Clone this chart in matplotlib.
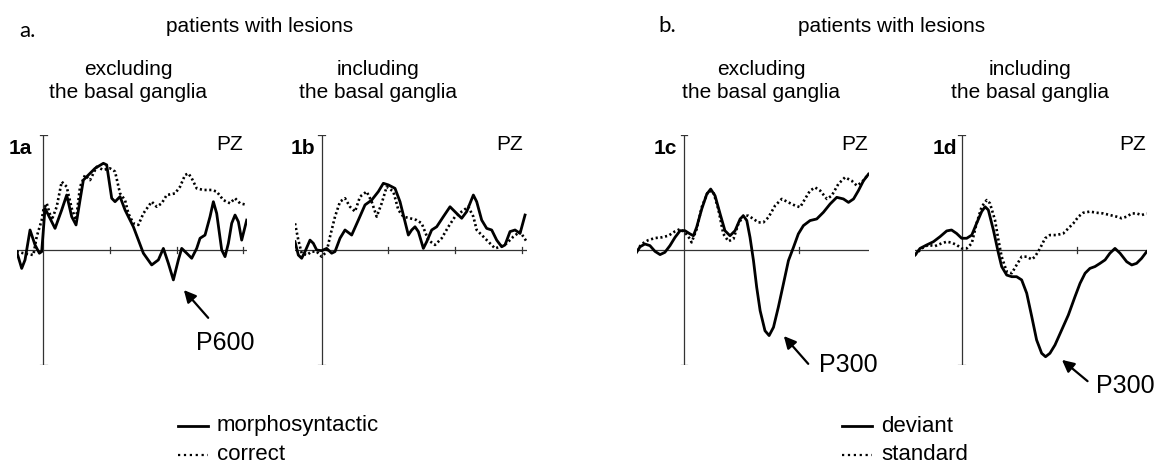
import numpy as np
import matplotlib
matplotlib.use("Agg")
import matplotlib.pyplot as plt

# --- data (time in ms, amplitude in arbitrary uV units) ---
# 1a: lesions excluding the basal ganglia, syntax task
t_1a_solid = [-160, -130, -110, -80, -50, -24, -10, 10, 30, 70, 110, 140, 170, 196, 220, 240, 270,
              310, 360, 380, 410, 430, 460, 490, 540, 600, 650, 690, 720, 750, 780, 810, 830, 860,
              890, 920, 940, 970, 1000, 1020, 1040, 1070, 1090, 1110, 1130, 1150, 1170, 1190, 1220]
v_1a_solid = [-0.07, -0.80, -0.43, 0.87, 0.22, -0.14, -0.07, 1.81, 1.52, 0.94, 1.74, 2.39, 1.45, 1.09,
              2.17, 3.04, 3.26, 3.55, 3.77, 3.70, 2.25, 2.10, 2.32, 1.74, 1.01, -0.14, -0.65, -0.43,
              0.07, -0.58, -1.30, -0.43, 0.07, -0.14, -0.36, 0.07, 0.51, 0.65, 1.45, 2.10, 1.59, 0.00,
              -0.29, 0.29, 1.16, 1.52, 1.23, 0.43, 1.30]
t_1a_dot = [-160, -120, -60, -40, -10, 0, 20, 50, 80, 110, 140, 170, 196, 220, 250, 280, 320, 360,
            400, 430, 460, 490, 510, 540, 570, 600, 650, 680, 710, 740, 790, 820, 850, 870, 890, 920,
            960, 1010, 1040, 1080, 1120, 1150, 1180, 1220]
v_1a_dot = [-0.07, -0.14, -0.22, 0.58, 1.30, 1.74, 2.03, 1.30, 1.88, 2.97, 2.75, 1.81, 1.30, 2.75,
            3.26, 3.04, 3.62, 3.48, 3.55, 3.41, 2.46, 2.17, 1.59, 1.16, 1.09, 1.59, 2.10, 1.88, 2.03,
            2.39, 2.46, 2.75, 3.26, 3.33, 3.12, 2.68, 2.61, 2.61, 2.54, 2.17, 2.03, 2.25, 2.03, 1.96]

# 1b: lesions including the basal ganglia, syntax task
t_1b_solid = [-160, -140, -120, -100, -70, -50, -30, 0, 30, 60, 80, 110, 140, 180, 220, 260, 300,
              340, 370, 400, 440, 470, 500, 520, 540, 560, 580, 610, 630, 660, 690, 730, 770, 810,
              840, 870, 910, 930, 960, 990, 1020, 1050, 1080, 1100, 1130, 1160, 1190, 1220]
v_1b_solid = [0.36, -0.22, -0.36, -0.07, 0.43, 0.29, 0.00, -0.03, 0.07, -0.14, -0.07, 0.51, 0.87,
              0.65, 1.30, 1.96, 2.17, 2.54, 2.90, 2.83, 2.68, 2.10, 1.23, 0.65, 0.87, 1.01, 0.80,
              0.07, 0.36, 0.87, 1.01, 1.45, 1.88, 1.59, 1.38, 1.67, 2.39, 2.10, 1.30, 0.94, 0.87,
              0.43, 0.14, 0.22, 0.80, 0.87, 0.72, 1.52]
t_1b_dot = [-160, -140, -120, -90, -60, -30, 0, 30, 50, 80, 110, 140, 170, 200, 230, 270, 300, 330,
            360, 390, 430, 460, 490, 530, 570, 600, 640, 680, 720, 760, 800, 840, 880, 910, 930, 970,
            1000, 1040, 1070, 1110, 1150, 1190, 1210, 1230]
v_1b_dot = [1.16, 0.43, -0.14, -0.22, -0.07, -0.07, -0.29, -0.07, 0.58, 1.45, 2.10, 2.25, 1.88, 1.67,
            2.32, 2.54, 2.10, 1.45, 2.03, 2.75, 2.54, 1.74, 1.45, 1.38, 1.30, 1.16, 0.43, 0.22, 0.51,
            1.01, 1.45, 1.67, 1.88, 1.45, 0.87, 0.58, 0.36, 0.07, 0.14, 0.29, 0.58, 0.80, 0.58, 0.36]

# 1c: lesions excluding the basal ganglia, oddball task
t_1c_solid = [-206, -191, -170, -148, -126, -104, -83, -61, -39, -17, 4, 26, 41, 55, 77, 99, 116, 135,
              157, 178, 200, 222, 244, 258, 273, 287, 302, 316, 331, 352, 370, 389, 410, 432, 454,
              476, 497, 519, 548, 577, 606, 635, 664, 693, 715, 737, 758, 780, 802]
v_1c_solid = [-0.10, 0.14, 0.26, 0.19, -0.06, -0.20, -0.10, 0.19, 0.55, 0.84, 0.84, 0.70, 0.62, 0.99,
              1.78, 2.43, 2.65, 2.36, 1.57, 0.84, 0.62, 0.84, 1.35, 1.49, 1.28, 0.55, -0.46, -1.62,
              -2.64, -3.51, -3.72, -3.36, -2.49, -1.48, -0.46, 0.12, 0.70, 1.06, 1.28, 1.35, 1.64,
              2.00, 2.29, 2.22, 2.07, 2.22, 2.58, 3.01, 3.30]
t_1c_dot = [-206, -184, -155, -126, -97, -68, -39, -17, 4, 26, 33, 55, 77, 106, 128, 149, 171, 193,
            215, 236, 258, 280, 302, 323, 345, 367, 396, 425, 454, 483, 505, 526, 548, 570, 592, 621,
            642, 671, 700, 729, 751, 773, 802]
v_1c_dot = [-0.03, 0.26, 0.43, 0.52, 0.55, 0.62, 0.81, 0.91, 0.77, 0.48, 0.33, 0.91, 1.86, 2.58, 2.51,
            1.78, 0.70, 0.38, 0.48, 1.13, 1.49, 1.49, 1.35, 1.20, 1.20, 1.42, 1.93, 2.22, 2.07, 1.93,
            1.86, 2.22, 2.58, 2.72, 2.58, 2.22, 2.36, 2.87, 3.16, 3.01, 2.80, 2.94, 3.30]

# 1d: lesions including the basal ganglia, oddball task
t_1d_solid = [-203, -181, -152, -123, -94, -65, -44, -22, 0, 22, 44, 65, 87, 102, 116, 138, 160, 174,
              196, 218, 239, 261, 283, 305, 326, 348, 365, 384, 406, 435, 464, 493, 515, 537, 558,
              580, 602, 624, 645, 667, 689, 718, 740, 761, 783, 805]
v_1d_solid = [-0.22, 0.07, 0.22, 0.36, 0.58, 0.83, 0.87, 0.72, 0.51, 0.51, 0.65, 1.16, 1.67, 1.88,
              1.74, 0.87, -0.14, -0.72, -1.09, -1.16, -1.16, -1.30, -1.88, -2.90, -3.91, -4.49,
              -4.64, -4.49, -4.13, -3.48, -2.83, -2.03, -1.45, -1.01, -0.80, -0.72, -0.58, -0.43,
              -0.14, 0.07, -0.14, -0.51, -0.65, -0.58, -0.36, -0.07]
t_1d_dot = [-203, -174, -145, -116, -87, -65, -44, -22, 0, 22, 44, 65, 87, 109, 123, 145, 160, 174,
            196, 218, 239, 261, 283, 305, 319, 341, 363, 384, 413, 442, 464, 486, 508, 529, 558, 587,
            616, 645, 674, 696, 718, 740, 761, 783, 805]
v_1d_dot = [-0.22, 0.07, 0.22, 0.17, 0.29, 0.36, 0.32, 0.22, 0.07, 0.07, 0.29, 1.16, 1.88, 2.17, 2.03,
            1.30, 0.43, -0.29, -0.94, -1.01, -0.65, -0.29, -0.29, -0.41, -0.29, 0.07, 0.51, 0.65,
            0.65, 0.72, 0.94, 1.16, 1.45, 1.62, 1.67, 1.62, 1.59, 1.52, 1.45, 1.38, 1.45, 1.59, 1.59,
            1.52, 1.59]

panel_labels = ["1a", "1b", "1c", "1d"]
subtitles = ["excluding\nthe basal ganglia", "including\nthe basal ganglia"] * 2
legend_a = ["morphosyntactic", "correct"]
legend_b = ["deviant", "standard"]

# --- figure ---
W, H = 1158, 466
fig = plt.figure(figsize=(W / 100, H / 100), dpi=100)
plt.rcParams['font.family'] = ['Liberation Sans', 'DejaVu Sans']


def fx(x):
    return x / W


def fy(y):
    return 1 - y / H


def make_axes(left, right, top=135, bottom=365):
    ax = fig.add_axes([fx(left), fy(bottom), (right - left) / W, (bottom - top) / H])
    ax.set_ylim(-5, 5)
    ax.axis('off')
    return ax


# pixel boxes of each panel and its time range
boxes = [(16.7, 246.7, -160, 1220, [400, 800, 1200]),
         (295.0, 526.7, -160, 1230, [400, 800, 1200]),
         (636.6, 868.5, -206, 802, [500]),
         (915.0, 1146.7, -203, 805, [500])]
series = [(t_1a_solid, v_1a_solid, t_1a_dot, v_1a_dot),
          (t_1b_solid, v_1b_solid, t_1b_dot, v_1b_dot),
          (t_1c_solid, v_1c_solid, t_1c_dot, v_1c_dot),
          (t_1d_solid, v_1d_solid, t_1d_dot, v_1d_dot)]

axes = []
for (left, right, t0, t1, ticks), (ts, vs, td, vd), lab in zip(boxes, series, panel_labels):
    ax = make_axes(left, right)
    ax.set_xlim(t0, t1)
    ax.axhline(0, color='#333333', lw=0.9)
    ax.plot([0, 0], [-5, 5], color='#333333', lw=0.9)
    cap = (t1 - t0) * 0.015
    ax.plot([-cap, cap], [5, 5], color='#333333', lw=0.9)
    ax.plot([-cap, cap], [-5, -5], color='#333333', lw=0.9)
    for tk in ticks:
        ax.plot([tk, tk], [-0.12, 0.12], color='#333333', lw=0.9)
    ax.plot(td, vd, color='black', lw=1.9, linestyle=(0, (0.8, 1.0)), solid_capstyle='round')
    ax.plot(ts, vs, color='black', lw=2.0, solid_joinstyle='round')
    axes.append(ax)

# panel labels and electrode
for (x, y), lab in zip([(20, 148), (303, 148), (665, 148), (945, 149)], panel_labels):
    fig.text(fx(x), fy(y), lab, fontsize=15, fontweight='bold', ha='center', va='center')
for x in [230, 510, 855, 1133]:
    fig.text(fx(x), fy(145), "PZ", fontsize=15, ha='center', va='center')

# headers
fig.text(fx(27), fy(31), "a.", fontsize=16, family=['Lato', 'DejaVu Sans'], ha='center', va='center')
fig.text(fx(667), fy(26), "b.", fontsize=16, family=['Lato', 'DejaVu Sans'], ha='center', va='center')
fig.text(fx(260), fy(26), "patients with lesions", fontsize=15, ha='center', va='center')
fig.text(fx(892), fy(26), "patients with lesions", fontsize=15, ha='center', va='center')
for x, s in zip([128, 378, 761, 1030], subtitles):
    fig.text(fx(x), fy(81), s, fontsize=15, ha='center', va='center', linespacing=1.25)

# component labels
axes[0].annotate("", xy=(832, -1.65), xytext=(1000, -3.04),
                 arrowprops=dict(arrowstyle='-|>', color='black', lw=1.6, mutation_scale=18))
axes[0].text(1090, -4.05, "P600", fontsize=18, ha='center', va='center')
axes[2].annotate("", xy=(426, -3.65), xytext=(548, -5.04),
                 arrowprops=dict(arrowstyle='-|>', color='black', lw=1.6, mutation_scale=18),
                 annotation_clip=False)
axes[2].text(713, -5.0, "P300", fontsize=18, ha='center', va='center')
axes[3].annotate("", xy=(427, -4.70), xytext=(557, -5.78),
                 arrowprops=dict(arrowstyle='-|>', color='black', lw=1.6, mutation_scale=18),
                 annotation_clip=False)
axes[3].text(712, -5.91, "P300", fontsize=18, ha='center', va='center')

# legends
for x0, x1, labels in [(178, 208, legend_a), (842, 872, legend_b)]:
    for y, ls, s in [(426, '-', labels[0]), (455, ':', labels[1])]:
        fig.add_artist(plt.Line2D([fx(x0), fx(x1)], [fy(y), fy(y)], color='black',
                                  lw=2.0 if ls == '-' else 1.6, linestyle=ls))
        fig.text(fx(x1 + 9), fy(y), s, fontsize=16, ha='left', va='center')

fig.savefig("out.png", dpi=100)
